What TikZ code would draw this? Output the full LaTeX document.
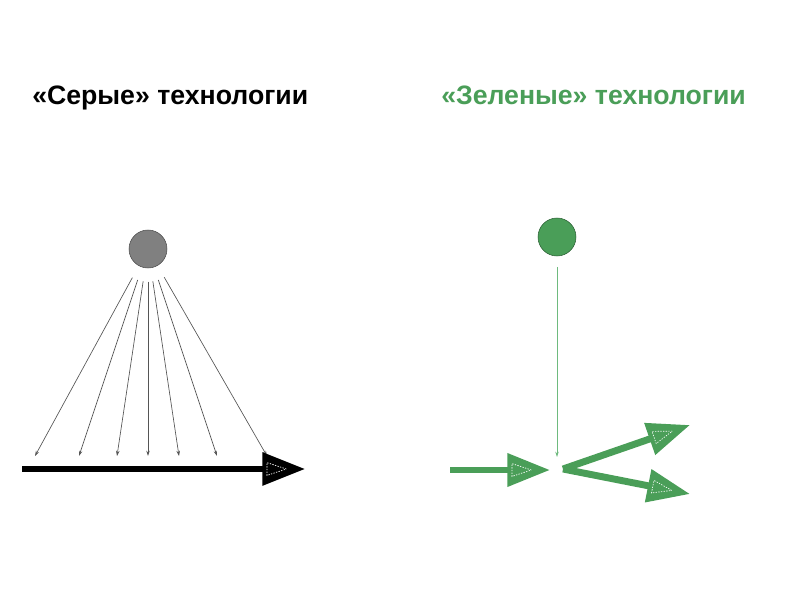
\documentclass[tikz,border=0pt]{standalone}
\usepackage{fontspec}
\setmainfont{Liberation Sans}
\usepackage{tikz}
\usetikzlibrary{arrows.meta,calc}

\definecolor{ecogreen}{RGB}{74,158,88}
\definecolor{lightgreen}{RGB}{110,186,126}
\definecolor{raygray}{RGB}{85,85,85}

\tikzset{
  dot/.style={circle, draw=#1!60!black, thin, minimum size=28.5pt, inner sep=0pt},
  ray/.style={draw=raygray, line width=0.5pt, shorten <=10pt, -{Stealth[length=4pt,width=2.6pt]}},
  bigarrow/.style={line width=#1, -{Triangle[length=32pt,width=24pt]}},
  innerdash/.style={draw=white, dashed, dash pattern=on 1pt off 1pt, line width=0.5pt},
  title/.style={anchor=base west, font=\fontsize{20}{24}\selectfont\bfseries, inner sep=0pt}
}

% dashed triangle drawn inside an arrow head, from start #1 to tip #2
\newcommand\innerhead[2]{%
  \coordinate (ih-a) at ($(#2)!14pt!(#1)$);
  \coordinate (ih-m) at ($(#2)!28.5pt!(#1)$);
  \draw[innerdash] (ih-a) -- ($(ih-m)!4.8pt!90:(#2)$) -- ($(ih-m)!4.8pt!-90:(#2)$) -- cycle;
}

\begin{document}
\begin{tikzpicture}[x=0.75pt,y=-0.75pt]
\useasboundingbox (0,0) rectangle (800,600);

% titles
\node[title] (graytitle) at (32,104) {«Серые» технологии};
\node[title, text=ecogreen] (greentitle) at (441,104) {«Зеленые» технологии};

% grey side
\node[dot=gray, fill=gray] (graydot) at (148,249) {};
\foreach \i/\x in {1/35, 2/79, 3/117, 4/148, 5/179, 6/217, 7/267}
  \coordinate (ray\i) at (\x,456);
\foreach \i in {1,...,7}
  \draw[ray] (graydot) -- (ray\i);
\coordinate (graystart) at (22,469);
\coordinate (graytip) at (305,469);
\draw[bigarrow=4.5pt] (graystart) -- (graytip);
\innerhead{graystart}{graytip}

% green side
\node[dot=ecogreen, fill=ecogreen] (greendot) at (557,237) {};
\coordinate (drop) at (557,457);
\draw[draw=lightgreen, line width=0.5pt, shorten <=8pt, -{Stealth[length=4pt,width=2.6pt]}] (greendot) -- (drop);
\coordinate (instart) at (450,470);
\coordinate (intip) at (550,470);
\coordinate (fork) at (563,469);
\coordinate (uptip) at (690,425);
\coordinate (downtip) at (690,494);
\draw[bigarrow=5.2pt, draw=ecogreen, fill=ecogreen] (instart) -- (intip);
\draw[bigarrow=5.2pt, draw=ecogreen, fill=ecogreen] (fork) -- (uptip);
\draw[bigarrow=5.2pt, draw=ecogreen, fill=ecogreen] (fork) -- (downtip);
\innerhead{instart}{intip}
\innerhead{fork}{uptip}
\innerhead{fork}{downtip}
\end{tikzpicture}
\end{document}
